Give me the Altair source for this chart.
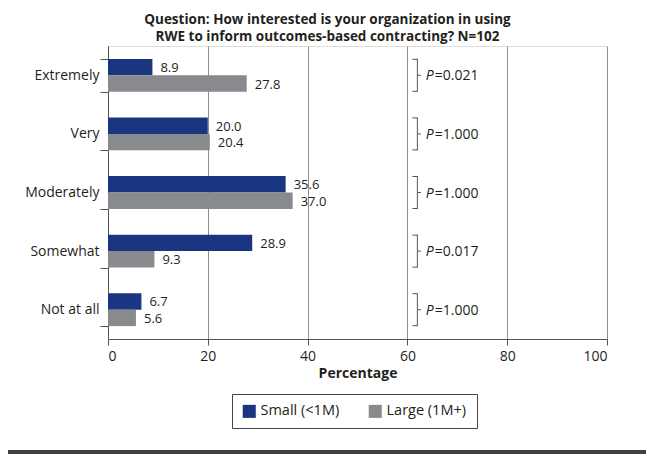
import altair as alt
import pandas as pd

levels = ["Extremely", "Very", "Moderately", "Somewhat", "Not at all"]
groups = ["Small (<1M)", "Large (1M+)"]
small_vals = [8.9, 20.0, 35.6, 28.9, 6.7]
large_vals = [27.8, 20.4, 37.0, 9.3, 5.6]
p_values = ["=0.021", "=1.000", "=1.000", "=0.017", "=1.000"]
colors = ["#1b3680", "#898a8d"]
title_lines = ["Question: How interested is your organization in using",
               "RWE to inform outcomes-based contracting? N=102"]
x_ticks = [0, 20, 40, 60, 80, 100]

# bracket positions (data units on the percentage axis)
br_left, br_mid, br_nub, p_pos = 61.0, 62.0, 62.7, 63.7

rows = []
for lv, s, l in zip(levels, small_vals, large_vals):
    rows.append({"level": lv, "group": groups[0], "value": s, "label": f"{s:.1f}"})
    rows.append({"level": lv, "group": groups[1], "value": l, "label": f"{l:.1f}"})
df = pd.DataFrame(rows)

pdf = pd.DataFrame({
    "level": levels, "p": p_values,
    "bl": [br_left] * 5, "bm": [br_mid] * 5, "bn": [br_nub] * 5, "pp": [p_pos] * 5,
})

TXT = "#231f20"
FONT = "Open Sans"
FS = 14

y_enc = alt.Y("level:N", sort=levels,
              scale=alt.Scale(paddingInner=0.44, paddingOuter=0.22),
              axis=alt.Axis(title=None, tickBand="extent", labelFontSize=FS,
                            labelColor=TXT, labelPadding=1, tickSize=8,
                            tickColor="#555", domainColor="#555", labelFont=FONT))
x_enc = alt.X("value:Q", scale=alt.Scale(domain=[0, 100], nice=False),
              axis=alt.Axis(title="Percentage", values=x_ticks, grid=True,
                            gridColor="#8e8e8e", gridWidth=1, tickSize=6,
                            tickColor="#555", domainColor="#555",
                            labelFontSize=FS, labelColor=TXT, labelPadding=4,
                            titleFontSize=FS, titleFontWeight="bold",
                            titleColor=TXT, titlePadding=3, labelFont=FONT,
                            titleFont=FONT))
yoff = alt.YOffset("group:N", sort=groups,
                   scale=alt.Scale(paddingInner=0, paddingOuter=0))

bars = alt.Chart(df).mark_bar().encode(
    x=x_enc, y=y_enc, yOffset=yoff,
    color=alt.Color("group:N", sort=groups,
                    scale=alt.Scale(domain=groups, range=colors),
                    legend=alt.Legend(orient="none", legendX=124, legendY=348,
                                      direction="horizontal",
                                      title=None, symbolType="square",
                                      symbolSize=170, symbolStrokeWidth=0,
                                      strokeColor="#444", padding=10,
                                      labelFontSize=14.5, labelColor=TXT,
                                      labelFont=FONT, columnPadding=28,
                                      labelOffset=4)),
)

labels = alt.Chart(df).mark_text(align="left", baseline="middle", dx=8, dy=1,
                                 fontSize=13, color=TXT, font=FONT).encode(
    x="value:Q", y=alt.Y("level:N", sort=levels), yOffset=yoff, text="label:N")

base_p = alt.Chart(pdf)
vline = base_p.mark_tick(size=33, thickness=1, color="#555", opacity=1).encode(
    x="bm:Q", y=alt.Y("level:N", sort=levels))
top_t = base_p.mark_rule(color="#555", yOffset=-16).encode(
    x="bl:Q", x2="bm:Q", y=alt.Y("level:N", sort=levels))
bot_t = base_p.mark_rule(color="#555", yOffset=16).encode(
    x="bl:Q", x2="bm:Q", y=alt.Y("level:N", sort=levels))
nub = base_p.mark_rule(color="#555").encode(
    x="bm:Q", x2="bn:Q", y=alt.Y("level:N", sort=levels))
p_it = base_p.mark_text(align="left", baseline="middle", fontSize=FS,
                        fontStyle="italic", color=TXT, font=FONT, dy=1).encode(
    x="pp:Q", y=alt.Y("level:N", sort=levels), text=alt.value("P"))
p_txt = base_p.mark_text(align="left", baseline="middle", fontSize=FS,
                         color=TXT, font=FONT, dx=9, dy=1).encode(
    x="pp:Q", y=alt.Y("level:N", sort=levels), text="p:N")

strip = alt.Chart(pd.DataFrame({"k": [0]})).mark_rect(color="#3d3f45").encode(
    x=alt.value(-110), x2=alt.value(560), y=alt.value(404), y2=alt.value(412))

chart = alt.layer(bars, labels, vline, top_t, bot_t, nub, p_it, p_txt, strip).properties(
    width=499, height=293,
    title=alt.TitleParams(title_lines, fontSize=13.5, fontWeight="bold",
                          color=TXT, font=FONT, anchor="middle", frame="group",
                          dx=-30, offset=-4, lineHeight=17),
    autosize=alt.AutoSizeParams(type="none"),
    padding={"left": 100, "top": 38, "right": 39, "bottom": 120},
).configure_view(stroke=None).configure(font=FONT)

chart.save("out.html", embed_options={"renderer": "svg", "actions": False})
